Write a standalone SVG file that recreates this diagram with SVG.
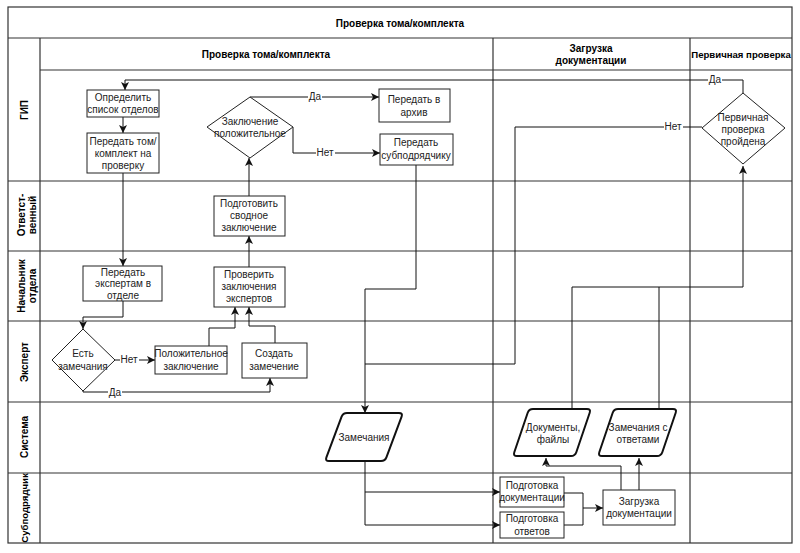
<svg xmlns="http://www.w3.org/2000/svg" width="800" height="553" viewBox="0 0 800 553">
<style>
.frame{fill:none;stroke:#333;stroke-width:1.2}
.box{fill:#fff;stroke:#222;stroke-width:1}
.data{fill:#fff;stroke:#111;stroke-width:2}
.t{font-family:"Liberation Sans",Arial,sans-serif;font-size:10px;fill:#222;text-anchor:middle}
.h{font-family:"Liberation Sans",Arial,sans-serif;font-size:10px;font-weight:bold;fill:#000;text-anchor:middle}
.c{fill:none;stroke:#111;stroke-width:1}
.lbl{font-family:"Liberation Sans",Arial,sans-serif;font-size:10px;fill:#222;text-anchor:middle}
.lb{fill:#fff}
</style>
<defs>
<marker id="arr" markerWidth="8" markerHeight="8" refX="8" refY="4" orient="auto" markerUnits="userSpaceOnUse">
<path d="M0,0 L8,4 L0,8 L2,4 z" fill="#111"/>
</marker>
</defs>
<rect x="0" y="0" width="800" height="553" fill="#fff"/>

<g id="pool">
<rect class="frame" x="8" y="7" width="784" height="536"/>
<line class="frame" x1="8" y1="38" x2="792" y2="38"/>
<line class="frame" x1="40" y1="38" x2="40" y2="543"/>
<line class="frame" x1="40" y1="70" x2="792" y2="70"/>
<line class="frame" x1="493" y1="38" x2="493" y2="543"/>
<line class="frame" x1="690" y1="38" x2="690" y2="543"/>
<line class="frame" x1="8" y1="181" x2="792" y2="181"/>
<line class="frame" x1="8" y1="251" x2="792" y2="251"/>
<line class="frame" x1="8" y1="321" x2="792" y2="321"/>
<line class="frame" x1="8" y1="402" x2="792" y2="402"/>
<line class="frame" x1="8" y1="473" x2="792" y2="473"/>
<text class="h" x="400" y="27">Проверка тома/комплекта</text>
<text class="h" x="266" y="58">Проверка тома/комплекта</text>
<text class="h" x="591" y="52">Загрузка</text>
<text class="h" x="591" y="64">документации</text>
<text class="h" x="741" y="58" style="font-size:9.6px">Первичная проверка</text>
<text class="h" transform="translate(28,110) rotate(-90)">ГИП</text>
<text class="h" transform="translate(25,215) rotate(-90)">Ответст-</text>
<text class="h" transform="translate(36,215) rotate(-90)">венный</text>
<text class="h" transform="translate(25,286) rotate(-90)">Начальник</text>
<text class="h" transform="translate(36,286) rotate(-90)">отдела</text>
<text class="h" transform="translate(28,362) rotate(-90)">Эксперт</text>
<text class="h" transform="translate(28,437) rotate(-90)">Система</text>
<text class="h" transform="translate(28,508) rotate(-90)" style="font-size:9.6px">Субподрядчик</text>
</g>

<g id="connectors">
<path class="c" d="M743,93 V80 H125 V90" marker-end="url(#arr)"/>
<path class="c" d="M123,117 V133" marker-end="url(#arr)"/>
<path class="c" d="M123,173 V266" marker-end="url(#arr)"/>
<path class="c" d="M123,301 V317 H83 V329" marker-end="url(#arr)"/>
<path class="c" d="M115,360 H155" marker-end="url(#arr)"/>
<path class="c" d="M83,391 V392 H270 V378" marker-end="url(#arr)"/>
<path class="c" d="M209,346 V328 H235 V307" marker-end="url(#arr)"/>
<path class="c" d="M275,343 V326 H249 V307" marker-end="url(#arr)"/>
<path class="c" d="M249,267 V236" marker-end="url(#arr)"/>
<path class="c" d="M249,196 V158" marker-end="url(#arr)"/>
<path class="c" d="M250,97 H379" marker-end="url(#arr)"/>
<path class="c" d="M293,127 V153 H380" marker-end="url(#arr)"/>
<path class="c" d="M416,165 V289 H365 V413" marker-end="url(#arr)"/>
<path class="c" d="M702,127 H515 V364 H365"/>
<path class="c" d="M365,461 V525 H500" marker-end="url(#arr)"/>
<path class="c" d="M365,492 H500" marker-end="url(#arr)"/>
<path class="c" d="M564,493 H583 V508 H603" marker-end="url(#arr)"/>
<path class="c" d="M564,525 H583 V508"/>
<path class="c" d="M621,490 V466 H546 V458" marker-end="url(#arr)"/>
<path class="c" d="M639,490 V458" marker-end="url(#arr)"/>
<path class="c" d="M572,409 V287 H743 V166" marker-end="url(#arr)"/>
<path class="c" d="M659,409 V287"/>
<rect class="lb" x="708" y="74" width="14" height="11"/>
<text class="lbl" x="715" y="83">Да</text>
<rect class="lb" x="308" y="91" width="14" height="11"/>
<text class="lbl" x="315" y="100">Да</text>
<rect class="lb" x="316" y="147" width="19" height="11"/>
<text class="lbl" x="325" y="156">Нет</text>
<rect class="lb" x="664" y="121" width="19" height="11"/>
<text class="lbl" x="673" y="130">Нет</text>
<rect class="lb" x="120" y="354" width="19" height="11"/>
<text class="lbl" x="129" y="363">Нет</text>
<rect class="lb" x="108" y="387" width="14" height="11"/>
<text class="lbl" x="115" y="396">Да</text>
</g>

<g id="n_opredelit">
<rect class="box" x="87" y="90" width="72" height="27"/>
<text class="t" x="123" y="101">Определить</text>
<text class="t" x="123" y="113">список отделов</text>
</g>
<g id="n_peredat_tom">
<rect class="box" x="87" y="133" width="72" height="40"/>
<text class="t" x="123" y="145">Передать том/</text>
<text class="t" x="123" y="157">комплект на</text>
<text class="t" x="123" y="169">проверку</text>
</g>
<g id="n_zakl_polozh">
<polygon class="box" points="250,97 293,127 250,158 207,127"/>
<text class="t" x="250" y="125">Заключение</text>
<text class="t" x="250" y="137">положительное</text>
</g>
<g id="n_arhiv">
<rect class="box" x="379" y="89" width="71" height="33"/>
<text class="t" x="414" y="103">Передать в</text>
<text class="t" x="414" y="116">архив</text>
</g>
<g id="n_subpodr">
<rect class="box" x="380" y="134" width="73" height="31"/>
<text class="t" x="416" y="146">Передать</text>
<text class="t" x="416" y="159">субподрядчику</text>
</g>
<g id="n_perv">
<polygon class="box" points="743,93 785,128 743,164 702,128"/>
<text class="t" x="743" y="121">Первичная</text>
<text class="t" x="743" y="133">проверка</text>
<text class="t" x="743" y="145">пройдена</text>
</g>
<g id="n_svodnoe">
<rect class="box" x="214" y="196" width="71" height="40"/>
<text class="t" x="249" y="207">Подготовить</text>
<text class="t" x="249" y="219">сводное</text>
<text class="t" x="249" y="231">заключение</text>
</g>
<g id="n_proverit">
<rect class="box" x="214" y="267" width="71" height="40"/>
<text class="t" x="249" y="278">Проверить</text>
<text class="t" x="249" y="290">заключения</text>
<text class="t" x="249" y="302">экспертов</text>
</g>
<g id="n_ekspertam">
<rect class="box" x="83" y="266" width="79" height="35"/>
<text class="t" x="123" y="276">Передать</text>
<text class="t" x="123" y="287">экспертам в</text>
<text class="t" x="123" y="299">отделе</text>
</g>
<g id="n_est">
<polygon class="box" points="83,329 115,360 83,391 52,360"/>
<text class="t" x="83" y="357">Есть</text>
<text class="t" x="83" y="370">замечания</text>
</g>
<g id="n_polozh">
<rect class="box" x="155" y="346" width="72" height="28"/>
<text class="t" x="191" y="357">Положительное</text>
<text class="t" x="191" y="370">заключение</text>
</g>
<g id="n_sozdat">
<rect class="box" x="242" y="343" width="65" height="35"/>
<text class="t" x="274" y="357">Создать</text>
<text class="t" x="274" y="370">замечение</text>
</g>
<g id="n_zamech">
<path class="data" d="M347,413 H399 Q403,413 401.6,416.7 L386.4,457.3 Q385,461 381,461 H329 Q325,461 326.4,457.3 L341.6,416.7 Q343,413 347,413 Z"/>
<text class="t" x="364" y="441">Замечания</text>
</g>
<g id="n_dokumenty">
<path class="data" d="M533,409 H587 Q591,409 589.7,412.8 L576.3,452.2 Q575,456 571,456 H517 Q513,456 514.3,452.2 L527.7,412.8 Q529,409 533,409 Z"/>
<text class="t" x="553" y="431">Документы,</text>
<text class="t" x="553" y="443">файлы</text>
</g>
<g id="n_zamech_otv">
<path class="data" d="M618,409 H673 Q677,409 675.7,412.8 L662.3,452.2 Q661,456 657,456 H602 Q598,456 599.3,452.2 L612.7,412.8 Q614,409 618,409 Z"/>
<text class="t" x="638" y="431">Замечания с</text>
<text class="t" x="638" y="443">ответами</text>
</g>
<g id="n_podg_dok">
<rect class="box" x="500" y="477" width="64" height="30"/>
<text class="t" x="532" y="489">Подготовка</text>
<text class="t" x="532" y="501">документации</text>
</g>
<g id="n_podg_otv">
<rect class="box" x="500" y="512" width="64" height="26"/>
<text class="t" x="532" y="522">Подготовка</text>
<text class="t" x="532" y="535">ответов</text>
</g>
<g id="n_zagruzka">
<rect class="box" x="603" y="490" width="72" height="35"/>
<text class="t" x="639" y="505">Загрузка</text>
<text class="t" x="639" y="517">документации</text>
</g>
</svg>
